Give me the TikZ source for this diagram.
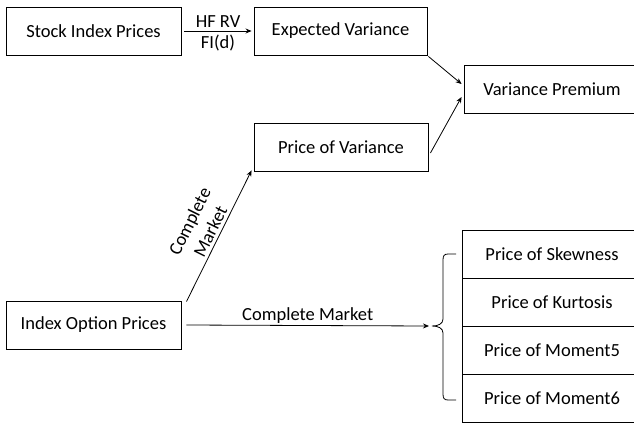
\documentclass[tikz,border=0pt]{standalone}
\usepackage{fontspec}
\setmainfont{Carlito}
\usetikzlibrary{arrows.meta}
\begin{document}
\begin{tikzpicture}[x=1pt,y=-1pt,
  every node/.style={font=\fontsize{18.5}{21}\selectfont},
  box/.style={draw, line width=0.9pt, minimum height=48pt, inner sep=0pt},
  cell/.style={box, minimum width=180pt},
  arr/.style={line width=0.8pt, -{Stealth[length=6pt,width=5pt]}},
  lbl/.style={inner sep=3.5pt}]
\useasboundingbox (0,0) rectangle (634,423);
\clip (0,0) rectangle (634,423);

% left column and middle column
\node[box, minimum width=175pt] (stock) at (93.5,31) {Stock Index Prices};
\node[box, minimum width=173pt] (expv) at (340.5,31) {Expected Variance};
\node[box, minimum width=174pt] (pov) at (341,147) {Price of Variance};
\node[box, minimum width=175pt] (iop) at (93.5,325) {Index Option Prices};

% right column (runs off the right edge)
\node[box, minimum width=176pt] (vp) at (552,89) {Variance Premium};
\node[cell] (skew) at (552,254) {Price of Skewness};
\node[cell] (kurt) at (552,302) {Price of Kurtosis};
\node[cell] (m5) at (552,350) {Price of Moment5};
\node[cell] (m6) at (552,398) {Price of Moment6};

% curly bracket grouping the moment prices
\coordinate (brace) at (432,326);
\draw[line width=0.8pt] (456,254) -- (448,254)
  .. controls (444,254) and (443,256) .. (443,260) -- (443,319)
  .. controls (443,324) and (438,326) .. (brace)
  .. controls (438,326) and (443,328) .. (443,333) -- (443,394)
  .. controls (443,398) and (444,400) .. (448,400) -- (456,400);

% connectors
\draw[arr] ([xshift=3pt]stock.east) -- ([xshift=-2pt]expv.west)
  node[midway, above, lbl] {HF RV} node[midway, below, lbl] {FI(d)};
\draw[arr] ([xshift=1pt,yshift=-1pt]expv.south east) -- ([xshift=-2pt,yshift=5pt]vp.west);
\draw[arr] ([xshift=2pt,yshift=-6pt]pov.east) -- ([xshift=-2pt,yshift=-8pt]vp.west);
\draw[arr] ([xshift=5pt,yshift=-1pt]iop.north east) -- ([xshift=-2pt,yshift=1pt]pov.south west)
  node[midway, sloped, above, align=center, inner sep=3pt, font=\fontsize{18.5}{23}\selectfont] {Complete\\Market};
\draw[arr] ([xshift=5pt]iop.east) -- ([xshift=-3pt]brace)
  node[midway, above, inner sep=2pt] {Complete Market};
\end{tikzpicture}
\end{document}
